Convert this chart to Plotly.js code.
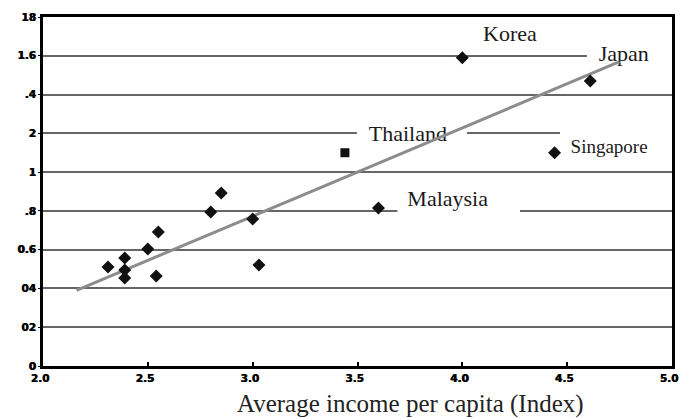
<!DOCTYPE html>
<html>
<head>
<meta charset="utf-8">
<script src="https://cdn.plot.ly/plotly-3.0.1.min.js"></script>
<style>html,body{margin:0;padding:0;background:#fff;}#chart{width:680px;height:418px;}</style>
</head>
<body>
<div id="chart"></div>
<script>
// Data
const otherX = [2.31, 2.39, 2.39, 2.39, 2.50, 2.54, 2.55, 2.80, 2.85, 3.00, 3.03, 3.60, 4.00, 4.61, 4.44];
const otherY = [0.51, 0.557, 0.495, 0.454, 0.603, 0.464, 0.691, 0.794, 0.892, 0.758, 0.521, 0.815, 1.59, 1.47, 1.10];
const thailandX = [3.44];
const thailandY = [1.10];
const trendX = [2.16, 4.75];
const trendY = [0.39, 1.57];
const labelText = ["Korea", "Japan", "Thailand", "Singapore", "Malaysia"];
const labelX = [4.227, 4.77, 3.74, 4.70, 3.93];
const labelY = [1.707, 1.604, 1.19, 1.124, 0.856];
const labelSize = [22, 22, 22, 19, 22];
const yTickVals = [0, 0.2, 0.4, 0.6, 0.8, 1.0, 1.2, 1.4, 1.6, 1.8];
const yTickText = ["0", "02", "04", "0.6", ".8", "1", "2", ".4", "1.6", "18"];
const xTitle = "Average income per capita (Index)";
// white boxes behind labels: [x0, x1, y0, y1]
const boxes = [[4.594, 5.0, 1.50, 1.68], [3.497, 4.022, 1.114, 1.269], [4.466, 5.0, 1.037, 1.227], [3.69, 4.275, 0.743, 0.918]];

const traces = [
  {x: labelX, y: labelY, text: labelText, mode: 'text', type: 'scatter', hoverinfo: 'skip', cliponaxis: false,
   textfont: {family: 'Liberation Serif, Times New Roman, serif', size: labelSize, color: '#1a1a1a'}},
  {x: trendX, y: trendY, mode: 'lines', type: 'scatter', line: {color: '#8c8c8c', width: 3}},
  {x: otherX, y: otherY, mode: 'markers', type: 'scatter', marker: {symbol: 'diamond', size: 10, color: '#111'}},
  {x: thailandX, y: thailandY, mode: 'markers', type: 'scatter', marker: {symbol: 'square', size: 9, color: '#111'}}
];

const shapes = boxes.map(b => ({type: 'rect', xref: 'x', yref: 'y', x0: b[0], x1: b[1], y0: b[2], y1: b[3],
  fillcolor: '#fff', line: {width: 0}, layer: 'between'}));

const tickFont = {family: 'DejaVu Sans, Arial, sans-serif', size: 10.5, color: '#000', weight: 'bold',
  shadow: '0.6px 0 0 #000'};

const layout = {
  width: 680, height: 418,
  margin: {l: 43, r: 8, t: 17, b: 52},
  paper_bgcolor: '#fff', plot_bgcolor: '#fff',
  showlegend: false,
  font: {family: 'DejaVu Sans, Arial, sans-serif', color: '#000'},
  xaxis: {range: [2, 5], dtick: 0.5, tick0: 2, tickformat: '.1f', showgrid: false, zeroline: false,
    showline: true, linecolor: '#000', linewidth: 3, mirror: true,
    ticks: 'inside', ticklen: 4, tickwidth: 2, tickcolor: '#000', ticklabeloverflow: 'allow',
    ticklabelshift: -3, tickfont: tickFont},
  yaxis: {range: [0, 1.8], tickvals: yTickVals, ticktext: yTickText, showgrid: true, gridcolor: '#666', gridwidth: 2,
    zeroline: false, showline: true, linecolor: '#000', linewidth: 3, mirror: true,
    ticks: 'outside', ticklen: 2, tickwidth: 1, tickcolor: '#000', ticklabeloverflow: 'allow',
    tickfont: tickFont},
  shapes: shapes,
  annotations: [{text: xTitle, xref: 'paper', yref: 'paper', x: 0.585, y: 0, yshift: -38,
    xanchor: 'center', yanchor: 'middle', showarrow: false,
    font: {family: 'Liberation Serif, Times New Roman, serif', size: 25, color: '#222'}}]
};

Plotly.newPlot('chart', traces, layout, {displayModeBar: false, staticPlot: true});
</script>
</body>
</html>
